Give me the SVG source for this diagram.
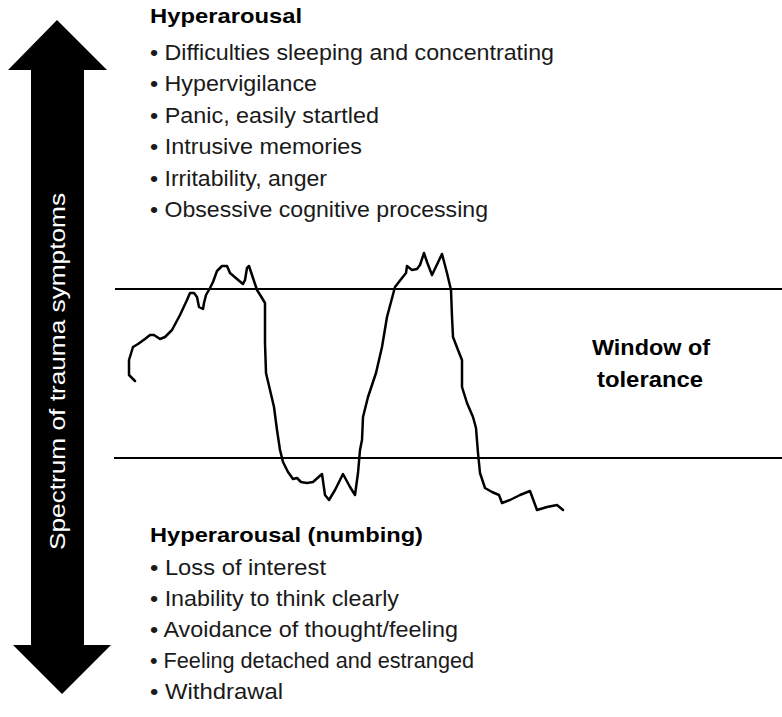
<svg xmlns="http://www.w3.org/2000/svg" width="782" height="717" viewBox="0 0 782 717">
<style>
.h{font-family:"Liberation Sans",Arial,sans-serif;font-weight:bold;font-size:20.5px;fill:#000}
.b{font-family:"Liberation Sans",Arial,sans-serif;font-size:21.5px;fill:#1a1a1a}
.v{font-family:"Liberation Sans",Arial,sans-serif;font-size:21.5px;fill:#fff}
.w{font-family:"Liberation Sans",Arial,sans-serif;font-weight:bold;font-size:22px;fill:#000}
.ln{stroke:#000;stroke-width:2;fill:none}
.wave{stroke:#000;stroke-width:2.5;fill:none;stroke-linejoin:round;stroke-linecap:round}
</style>
<rect width="782" height="717" fill="#fff"/>
<g id="spectrum-arrow">
<path d="M57,20 L107,70 L84,70 L84,645 L111,645 L62,694 L13,645 L31,645 L31,70 L8,70 Z" fill="#000"/>
<text class="v" transform="translate(65,550) rotate(-90)" textLength="357" lengthAdjust="spacingAndGlyphs">Spectrum of trauma symptoms</text>
</g>
<g id="hyperarousal">
<text class="h" x="150" y="23" textLength="152" lengthAdjust="spacingAndGlyphs">Hyperarousal</text>
<text class="b" x="150" y="60" textLength="404" lengthAdjust="spacingAndGlyphs">• Difficulties sleeping and concentrating</text>
<text class="b" x="150" y="91.4" textLength="167" lengthAdjust="spacingAndGlyphs">• Hypervigilance</text>
<text class="b" x="150" y="122.8" textLength="229" lengthAdjust="spacingAndGlyphs">• Panic, easily startled</text>
<text class="b" x="150" y="154.2" textLength="212" lengthAdjust="spacingAndGlyphs">• Intrusive memories</text>
<text class="b" x="150" y="185.6" textLength="177" lengthAdjust="spacingAndGlyphs">• Irritability, anger</text>
<text class="b" x="150" y="217" textLength="338" lengthAdjust="spacingAndGlyphs">• Obsessive cognitive processing</text>
</g>
<g id="window-of-tolerance">
<line class="ln" x1="115" y1="289" x2="782" y2="289"/>
<line class="ln" x1="114" y1="458" x2="782" y2="458"/>
<text class="w" x="651" y="355" text-anchor="middle" textLength="118" lengthAdjust="spacingAndGlyphs">Window of</text>
<text class="w" x="650" y="387" text-anchor="middle" textLength="106" lengthAdjust="spacingAndGlyphs">tolerance</text>
</g>
<g id="connectors">
<polyline class="wave" points="135,381 129,375 129,360 133,347 138,344 145,339 150,335 154,335 160,339 165,337 172,330 180,315 187,300 190,293 194,293 197,297 199,307 203,309 204,303 206,295 210,288 213,282 217,271 222,266 227,266 230,273 237,279 243,284 245,280 247,268 249,266 253,278 257,290 262,298 265,303 265,317 265,343 266,373 270,390 274,407 277,430 280,450 283,462 288,472 293,479 297,478 301,482 307,483 313,482 322,474 325,495 329,500 335,490 343,474 350,487 355,495 358,473 360,450 362,440 363,417 368,397 376,373 382,347 387,317 391,302 395,287 402,278 406,273 407,266 412,270 417,269 420,265 424,253 427,262 432,275 442,254 447,273 451,290 452,317 453,337 458,350 462,360 462,387 467,403 473,417 476,428 478,453 480,473 485,488 492,492 499,495 502,503 510,500 520,495 530,491 537,510 547,507 557,505 563,510"/>
</g>
<g id="hypoarousal">
<text class="h" x="150" y="542" textLength="273" lengthAdjust="spacingAndGlyphs">Hyperarousal (numbing)</text>
<text class="b" x="150" y="575" textLength="176" lengthAdjust="spacingAndGlyphs">• Loss of interest</text>
<text class="b" x="150" y="606" textLength="249" lengthAdjust="spacingAndGlyphs">• Inability to think clearly</text>
<text class="b" x="150" y="637" textLength="308" lengthAdjust="spacingAndGlyphs">• Avoidance of thought/feeling</text>
<text class="b" x="150" y="668" textLength="324" lengthAdjust="spacingAndGlyphs">• Feeling detached and estranged</text>
<text class="b" x="150" y="699" textLength="133" lengthAdjust="spacingAndGlyphs">• Withdrawal</text>
</g>
</svg>
